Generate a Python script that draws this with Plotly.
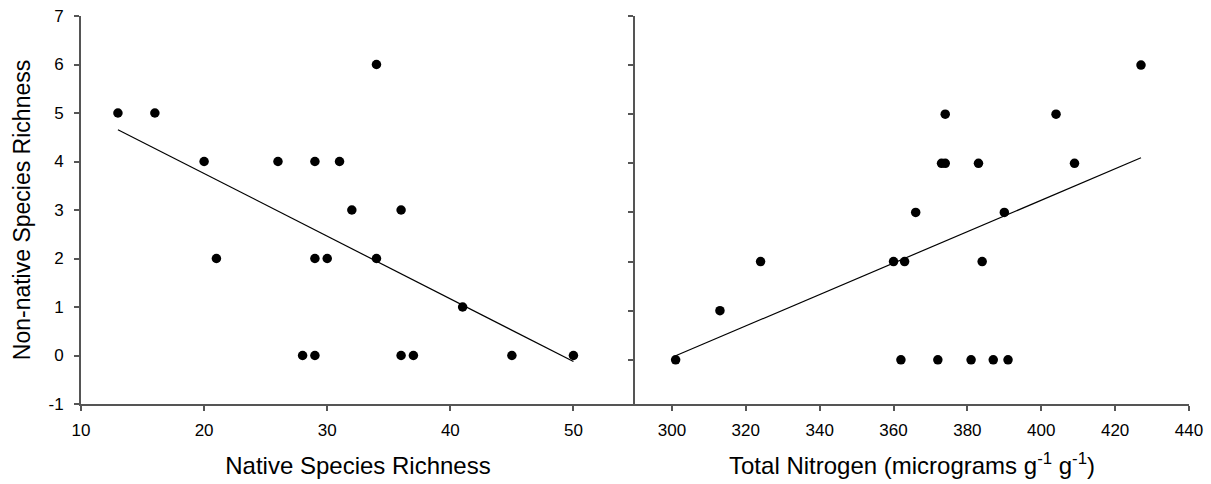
import numpy as np
import plotly.graph_objects as go

# Native species richness vs non-native species richness
native_richness = [13, 16, 20, 26, 29, 31, 32, 36, 21, 29, 30, 34, 41, 28, 29, 36, 37, 45, 50, 34]
nonnative_left = [5, 5, 4, 4, 4, 4, 3, 3, 2, 2, 2, 2, 1, 0, 0, 0, 0, 0, 0, 6]

# Total nitrogen vs non-native species richness
total_nitrogen = [301, 313, 324, 360, 363, 366, 362, 427, 374, 404,
                  373, 374, 383, 409, 390, 384, 372, 381, 387, 391]
nonnative_right = [0, 1, 2, 2, 2, 3, 0, 6, 5, 5, 4, 4, 4, 4, 3, 2, 0, 0, 0, 0]

y_tick_vals = [-1, 0, 1, 2, 3, 4, 5, 6, 7]
y_tick_text = ["-1", "0", "1", "2", "3", "4", "5", "6", "7"]
x1_tick_vals = [10, 20, 30, 40, 50]
x2_tick_vals = [300, 320, 340, 360, 380, 400, 420, 440]

FONT = "Liberation Sans, Arial, sans-serif"
AXIS_COLOR = "#555555"
TITLE_SIZE = 24


def fit_line(x, y):
    slope, intercept = np.polyfit(x, y, 1)
    xs = np.array([min(x), max(x)], dtype=float)
    return xs, slope * xs + intercept


fig = go.Figure()

# Left panel
fx1, fy1 = fit_line(native_richness, nonnative_left)
fig.add_trace(go.Scatter(x=fx1, y=fy1, mode="lines",
                         line=dict(color="black", width=1.2),
                         xaxis="x", yaxis="y", showlegend=False, hoverinfo="skip"))
fig.add_trace(go.Scatter(x=native_richness, y=nonnative_left, mode="markers",
                         marker=dict(color="black", size=9.5),
                         xaxis="x", yaxis="y", showlegend=False))

# Right panel
fx2, fy2 = fit_line(total_nitrogen, nonnative_right)
fig.add_trace(go.Scatter(x=fx2, y=fy2, mode="lines",
                         line=dict(color="black", width=1.2),
                         xaxis="x2", yaxis="y2", showlegend=False, hoverinfo="skip"))
fig.add_trace(go.Scatter(x=total_nitrogen, y=nonnative_right, mode="markers",
                         marker=dict(color="black", size=9.5),
                         xaxis="x2", yaxis="y2", showlegend=False))

common_axis = dict(showline=True, linecolor=AXIS_COLOR, linewidth=1.8,
                   ticks="outside", ticklen=5, tickwidth=1.5, tickcolor=AXIS_COLOR,
                   showgrid=False, zeroline=False, automargin=False,
                   tickfont=dict(family=FONT, size=17, color="black"))

fig.update_layout(
    width=1211, height=484,
    margin=dict(l=81, r=22, t=16, b=80),
    paper_bgcolor="white", plot_bgcolor="white",
    font=dict(family=FONT, color="black"),
    xaxis=dict(**common_axis, domain=[0, 0.5], range=[10, 55],
               tickvals=x1_tick_vals, anchor="y",
               ticklabelstandoff=5,
               title=dict(text="Native Species Richness",
                          font=dict(family=FONT, size=TITLE_SIZE), standoff=18)),
    yaxis=dict(**common_axis, range=[-1, 7], tickvals=y_tick_vals,
               ticktext=y_tick_text, anchor="x", ticklabelstandoff=7,
               title=dict(text="Non-native Species Richness",
                          font=dict(family=FONT, size=23), standoff=12)),
    xaxis2=dict(**common_axis, domain=[0.5, 1], range=[290, 440],
                tickvals=x2_tick_vals, anchor="y2",
                ticklabelstandoff=5,
                title=dict(text="Total Nitrogen (micrograms g<sup>-1</sup> g<sup>-1</sup>)",
                           font=dict(family=FONT, size=TITLE_SIZE), standoff=18)),
    yaxis2=dict(**common_axis, range=[-0.9, 7], tickvals=y_tick_vals,
                showticklabels=False, anchor="x2"),
)

fig.write_html("out.html")
